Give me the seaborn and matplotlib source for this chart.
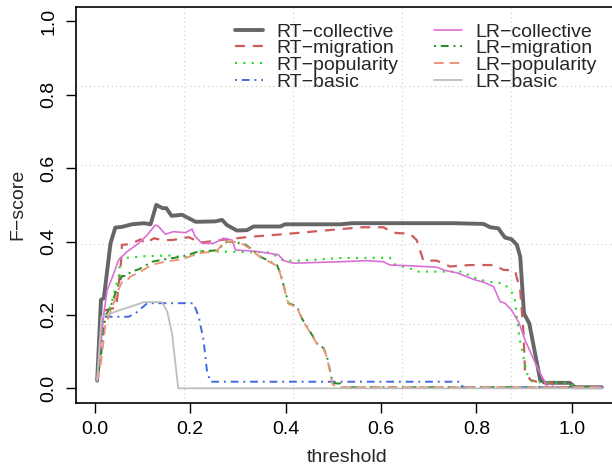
import numpy as np
import pandas as pd
import matplotlib
matplotlib.use("Agg")
import matplotlib.pyplot as plt
import seaborn as sns
from matplotlib.lines import Line2D

# ---------------- data ----------------
rt_collective_x = [0.005, 0.013, 0.019, 0.033, 0.043, 0.057, 0.078, 0.103, 0.117, 0.129, 0.142, 0.150, 0.161, 0.183,
                   0.211, 0.221, 0.253, 0.267, 0.277, 0.298, 0.319, 0.333, 0.389, 0.399, 0.515, 0.539, 0.752, 0.815,
                   0.829, 0.846, 0.860, 0.874, 0.885, 0.892, 0.900, 0.911, 0.934, 0.944, 0.996, 1.007, 1.063]
rt_collective_y = [0.021, 0.241, 0.246, 0.395, 0.438, 0.440, 0.447, 0.450, 0.447, 0.500, 0.491, 0.491, 0.470, 0.473,
                   0.454, 0.454, 0.455, 0.459, 0.445, 0.430, 0.431, 0.441, 0.441, 0.447, 0.447, 0.450, 0.450, 0.448,
                   0.439, 0.436, 0.411, 0.406, 0.391, 0.359, 0.204, 0.177, 0.023, 0.015, 0.015, 0.003, 0.003]

rt_migration_x = [0.005, 0.015, 0.022, 0.045, 0.055, 0.057, 0.075, 0.096, 0.106, 0.124, 0.141, 0.162, 0.197, 0.221,
                  0.263, 0.326, 0.396, 0.515, 0.563, 0.605, 0.626, 0.661, 0.675, 0.689, 0.717, 0.745, 0.787, 0.836,
                  0.857, 0.881, 0.892, 0.899, 0.902, 0.913, 0.934, 0.958, 0.965, 1.063]
rt_migration_y = [0.021, 0.204, 0.213, 0.220, 0.345, 0.391, 0.393, 0.406, 0.395, 0.409, 0.404, 0.404, 0.412, 0.397,
                  0.404, 0.413, 0.420, 0.434, 0.439, 0.439, 0.424, 0.421, 0.404, 0.348, 0.348, 0.332, 0.336, 0.336,
                  0.323, 0.321, 0.268, 0.150, 0.050, 0.023, 0.015, 0.015, 0.003, 0.003]

rt_popularity_x = [0.005, 0.015, 0.030, 0.050, 0.054, 0.064, 0.103, 0.155, 0.197, 0.221, 0.256, 0.368, 0.396, 0.431,
                   0.515, 0.619, 0.626, 0.665, 0.675, 0.773, 0.787, 0.822, 0.857, 0.870, 0.880, 0.890, 0.906, 0.918,
                   0.996, 1.007, 1.063]
rt_popularity_y = [0.021, 0.190, 0.210, 0.304, 0.355, 0.355, 0.360, 0.362, 0.356, 0.373, 0.373, 0.370, 0.348, 0.348,
                   0.355, 0.356, 0.339, 0.325, 0.318, 0.318, 0.305, 0.291, 0.286, 0.270, 0.250, 0.140, 0.041, 0.017,
                   0.015, 0.003, 0.003]

rt_basic_x = [0.005, 0.019, 0.071, 0.085, 0.110, 0.207, 0.218, 0.228, 0.235, 0.242, 0.766, 0.772, 1.063]
rt_basic_y = [0.021, 0.195, 0.195, 0.204, 0.232, 0.232, 0.195, 0.132, 0.050, 0.018, 0.018, 0.003, 0.003]

lr_collective_x = [0.005, 0.019, 0.026, 0.036, 0.050, 0.068, 0.092, 0.110, 0.127, 0.133, 0.148, 0.165, 0.190, 0.204,
                   0.210, 0.225, 0.249, 0.270, 0.288, 0.295, 0.340, 0.385, 0.396, 0.417, 0.515, 0.571, 0.605, 0.619,
                   0.661, 0.717, 0.735, 0.759, 0.794, 0.818, 0.836, 0.850, 0.860, 0.874, 0.890, 0.902, 0.927, 0.949,
                   1.063]
lr_collective_y = [0.021, 0.204, 0.268, 0.300, 0.350, 0.373, 0.395, 0.418, 0.445, 0.442, 0.420, 0.427, 0.424, 0.434,
                   0.415, 0.395, 0.395, 0.409, 0.404, 0.377, 0.373, 0.364, 0.348, 0.341, 0.345, 0.348, 0.345, 0.336,
                   0.334, 0.330, 0.321, 0.315, 0.297, 0.288, 0.277, 0.236, 0.232, 0.213, 0.177, 0.132, 0.059, 0.004,
                   0.003]

lr_migration_x = [0.005, 0.012, 0.022, 0.036, 0.050, 0.057, 0.068, 0.075, 0.092, 0.120, 0.148, 0.183, 0.218, 0.256,
                  0.277, 0.312, 0.326, 0.347, 0.382, 0.389, 0.406, 0.424, 0.434, 0.445, 0.466, 0.480, 0.487, 0.499,
                  0.515, 0.520, 1.063]
lr_migration_y = [0.021, 0.077, 0.195, 0.232, 0.286, 0.306, 0.306, 0.318, 0.324, 0.345, 0.352, 0.359, 0.373, 0.376,
                  0.400, 0.395, 0.382, 0.359, 0.336, 0.314, 0.232, 0.223, 0.191, 0.168, 0.123, 0.109, 0.086, 0.014,
                  0.013, 0.003, 0.003]

lr_popularity_x = [0.005, 0.012, 0.022, 0.036, 0.050, 0.057, 0.068, 0.075, 0.092, 0.120, 0.148, 0.183, 0.218, 0.256,
                   0.270, 0.290, 0.312, 0.326, 0.347, 0.382, 0.389, 0.406, 0.424, 0.434, 0.445, 0.466, 0.480, 0.487,
                   0.499, 0.510, 1.063]
lr_popularity_y = [0.021, 0.060, 0.170, 0.220, 0.270, 0.290, 0.295, 0.305, 0.315, 0.337, 0.345, 0.352, 0.368, 0.374,
                   0.398, 0.400, 0.392, 0.380, 0.357, 0.334, 0.312, 0.230, 0.221, 0.189, 0.166, 0.121, 0.107, 0.084,
                   0.010, 0.003, 0.003]

lr_basic_x = [0.005, 0.014, 0.050, 0.085, 0.103, 0.141, 0.152, 0.162, 0.169, 0.175, 1.063]
lr_basic_y = [0.021, 0.195, 0.212, 0.227, 0.235, 0.235, 0.209, 0.150, 0.068, 0.000, 0.000]

series_names = ["RT\u2212collective", "RT\u2212migration", "RT\u2212popularity", "RT\u2212basic",
                "LR\u2212collective", "LR\u2212migration", "LR\u2212popularity", "LR\u2212basic"]
series_x = [rt_collective_x, rt_migration_x, rt_popularity_x, rt_basic_x,
            lr_collective_x, lr_migration_x, lr_popularity_x, lr_basic_x]
series_y = [rt_collective_y, rt_migration_y, rt_popularity_y, rt_basic_y,
            lr_collective_y, lr_migration_y, lr_popularity_y, lr_basic_y]

x_ticks = [0.0, 0.2, 0.4, 0.6, 0.8, 1.0]
y_ticks = [0.0, 0.2, 0.4, 0.6, 0.8, 1.0]

# ---------------- styles ----------------
colors = ["#666666", "#CD5C5C", "#22DD22", "#4169E1", "#DA70D6", "#228B22", "#E9967A", "#BEBEBE"]
widths = [2.8, 1.6, 1.5, 1.4, 1.2, 1.4, 1.4, 1.3]
styles = ["-", (0, (4.5, 3.5)), (0, (1, 3)), (0, (1, 2.5, 4, 2.5)),
          "-", (0, (1, 2.5, 4, 2.5)), (0, (5, 3)), "-"]

sns.set_style("white")
plt.rcParams["font.family"] = ["Liberation Sans", "DejaVu Sans"]
plt.rcParams["axes.unicode_minus"] = True

fig = plt.figure(figsize=(6.12, 4.68), dpi=100)
ax = fig.add_axes([75.7 / 612, 1 - 403 / 468, (619.4 - 75.7) / 612, (403 - 6.7) / 468])

xlim = (-0.04, 1.10)
ylim = (-0.04, 1.04)

# dotted grid (R grid(5, 5) style: equal divisions of the plotting region)
for gx in np.linspace(xlim[0], xlim[1], 6)[1:-1]:
    ax.axvline(gx, color="#D3D3D3", lw=0.9, ls=(0, (1, 2.5)), zorder=0)
for gy in np.linspace(ylim[0], ylim[1], 6)[1:-1]:
    ax.axhline(gy, color="#D3D3D3", lw=0.9, ls=(0, (1, 2.5)), zorder=0)

handles = []
for name, xs, ys, c, w, s in zip(series_names, series_x, series_y, colors, widths, styles):
    df = pd.DataFrame({"threshold": xs, "F-score": ys})
    sns.lineplot(data=df, x="threshold", y="F-score", ax=ax, color=c, lw=w,
                 estimator=None, sort=False, legend=False)
    ax.lines[-1].set_linestyle(s)
    handles.append(Line2D([0], [0], color=c, lw=w, ls=s, label=name))

ax.set_xlim(*xlim)
ax.set_ylim(*ylim)
ax.set_xticks(x_ticks)
ax.set_yticks(y_ticks)
ax.set_xticklabels([f"{v:.1f}" for v in x_ticks])
ax.set_yticklabels([f"{v:.1f}" for v in y_ticks], rotation=90, va="center")
ax.tick_params(axis="both", direction="out", length=7, width=1.0, color="black",
               labelsize=14, pad=6, labelcolor="black")
ax.tick_params(axis="both", which="both", bottom=True, left=True)

ax.set_xlabel("threshold", fontsize=14, labelpad=8)
ax.set_ylabel("F\u2212score", fontsize=14, labelpad=10)

for sp in ax.spines.values():
    sp.set_color("black")
    sp.set_linewidth(1.2)
    sp.set_visible(True)
ax.spines["right"].set_visible(False)

leg = fig.legend(handles=handles, loc="upper left", bbox_to_anchor=(235 / 612, 1 - 23 / 468),
                 ncol=2, frameon=False, fontsize=14, handlelength=1.45, handletextpad=0.7,
                 columnspacing=1.8, labelspacing=-0.05, borderpad=0, borderaxespad=0)

fig.savefig("out.png", dpi=100)
